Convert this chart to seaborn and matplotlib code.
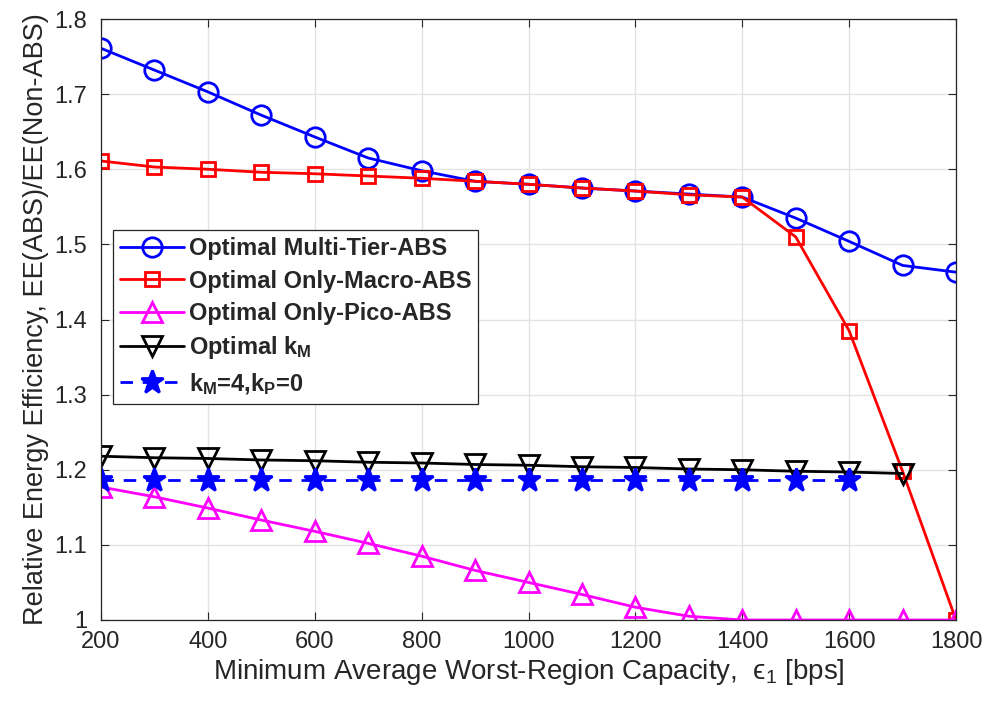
import numpy as np
import pandas as pd
import matplotlib
matplotlib.use("Agg")
import matplotlib.pyplot as plt
import seaborn as sns

# ---- data ----
capacity = [200, 300, 400, 500, 600, 700, 800, 900, 1000, 1100, 1200, 1300, 1400, 1500, 1600, 1700, 1800]
multi_tier = [1.761, 1.732, 1.703, 1.672, 1.643, 1.615, 1.598, 1.584, 1.580, 1.575, 1.571, 1.567, 1.563, 1.535, 1.504, 1.472, 1.463]
only_macro = [1.611, 1.603, 1.600, 1.596, 1.594, 1.591, 1.588, 1.584, 1.580, 1.575, 1.571, 1.566, 1.563, 1.510, 1.385, 1.198, 1.000]
only_pico = [1.177, 1.164, 1.149, 1.133, 1.118, 1.102, 1.085, 1.066, 1.050, 1.034, 1.017, 1.005, 1.000, 1.000, 1.000, 1.000, 1.000]
capacity_km = [200, 300, 400, 500, 600, 700, 800, 900, 1000, 1100, 1200, 1300, 1400, 1500, 1600, 1700]
optimal_km = [1.218, 1.216, 1.215, 1.213, 1.212, 1.210, 1.209, 1.207, 1.206, 1.204, 1.203, 1.201, 1.200, 1.198, 1.197, 1.195]
capacity_fixed = [200, 300, 400, 500, 600, 700, 800, 900, 1000, 1100, 1200, 1300, 1400, 1500, 1600]
fixed_km4 = [1.187] * 15

labels = ["Optimal Multi-Tier-ABS", "Optimal Only-Macro-ABS", "Optimal Only-Pico-ABS",
          r"Optimal k$_\mathregular{M}$", r"k$_\mathregular{M}$=4,k$_\mathregular{P}$=0"]
x_ticks = [200, 400, 600, 800, 1000, 1200, 1400, 1600, 1800]
y_ticks = [1.0, 1.1, 1.2, 1.3, 1.4, 1.5, 1.6, 1.7, 1.8]
y_tick_labels = ["1", "1.1", "1.2", "1.3", "1.4", "1.5", "1.6", "1.7", "1.8"]

sns.set_theme(style="whitegrid")
plt.rcParams["font.family"] = ["Liberation Sans", "DejaVu Sans"]
plt.rcParams["mathtext.default"] = "regular"

fig = plt.figure(figsize=(9.91, 7.14), dpi=100)
ax = fig.add_axes([101 / 991, 1 - 620 / 714, 855 / 991, 601 / 714])

series = [
    (capacity, multi_tier, labels[0], "#0000ff", "o", "-", 14, "none"),
    (capacity, only_macro, labels[1], "#ff0000", "s", "-", 10.5, "none"),
    (capacity, only_pico, labels[2], "#ff00ff", "^", "-", 14, "none"),
    (capacity_km, optimal_km, labels[3], "#000000", "v", "-", 14, "none"),
    (capacity_fixed, fixed_km4, labels[4], "#0000ff", "*", "--", 17, "#0000ff"),
]
for xs, ys, lab, col, mk, ls, ms, mfc in series:
    df = pd.DataFrame({"x": xs, "y": ys})
    sns.lineplot(data=df, x="x", y="y", ax=ax, color=col, marker=mk, linestyle=ls,
                 markersize=ms, markerfacecolor=mfc, markeredgecolor=col,
                 markeredgewidth=2.0, linewidth=2.0, label=lab)
for line in ax.get_lines():
    if line.get_linestyle() == "--":
        line.set_dashes([4.5, 3.5])

ax.set_xlim(200, 1800)
ax.set_ylim(1.0, 1.8)
ax.set_xticks(x_ticks)
ax.set_yticks(y_ticks)
ax.set_yticklabels(y_tick_labels)
ax.grid(True, color="#e3e3e3", linewidth=1.0)
ax.set_facecolor("white")
for s in ax.spines.values():
    s.set_visible(True)
    s.set_color("#262626")
    s.set_linewidth(0.9)
ax.tick_params(axis="both", which="both", direction="in", length=6, width=0.8,
               color="#262626", labelsize=17, labelcolor="#262626",
               top=True, right=True, bottom=True, left=True)
ax.tick_params(axis="x", pad=8)
ax.tick_params(axis="y", pad=10)
ax.set_xlabel("Minimum Average Worst-Region Capacity,  ϵ$_1$ [bps]", fontsize=20, color="#262626", labelpad=3)
ax.set_ylabel("Relative Energy Efficiency, EE(ABS)/EE(Non-ABS)", fontsize=19.5, color="#262626", labelpad=4)

leg = ax.legend(loc="upper left", bbox_to_anchor=(12 / 855, (620 - 230) / 601),
                prop={"weight": "bold", "size": 17}, frameon=True, fancybox=False,
                edgecolor="#262626", framealpha=1, borderpad=0.3, labelspacing=0.4,
                handlelength=2.7, handletextpad=0.2, borderaxespad=0)
leg.get_frame().set_linewidth(0.9)

fig.savefig("out.png", dpi=100)
